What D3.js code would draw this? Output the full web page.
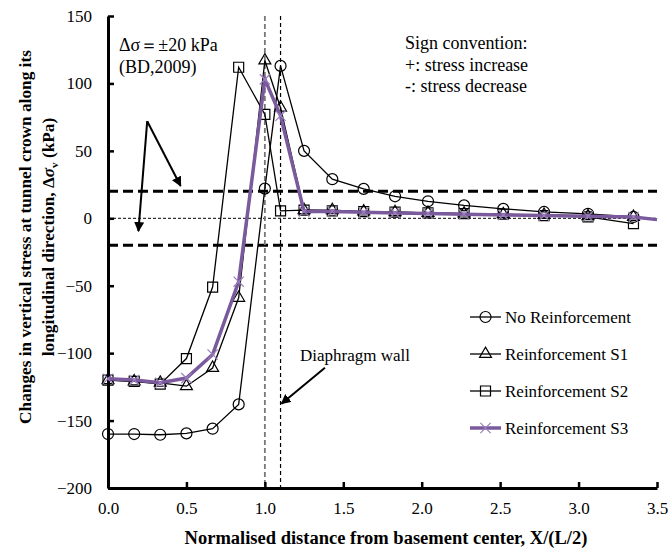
<!DOCTYPE html>
<html>
<head>
<meta charset="utf-8">
<script src="https://cdn.jsdelivr.net/npm/d3@7"></script>
<style>
  body { margin: 0; background: #fff; }
  svg text { font-family: "Liberation Serif", Tinos, "Times New Roman", Times, "DejaVu Serif", serif !important; fill: #000; }
</style>
</head>
<body>
<script>
// chart values
const xPos = [0, 0.167, 0.333, 0.5, 0.667, 0.833, 1.0, 1.1, 1.25, 1.43, 1.63, 1.83, 2.04, 2.27, 2.52, 2.78, 3.06, 3.35];
const xPosS3 = xPos.concat([3.5]);
const noReinf = [-160, -160, -160.5, -159.5, -156, -138, 22, 113, 50, 29, 21.8, 16.3, 12.6, 9.6, 7, 4.7, 3.3, 1];
const reinfS1 = [-120, -121, -122, -124.5, -111, -59, 117, 82, 6, 6, 5, 4.5, 4, 3.5, 3, 2.5, 1.5, 1];
const reinfS2 = [-120, -121, -123, -104, -51, 112, 77, 5.5, 6, 5.5, 5, 4.5, 4, 3.5, 3, 2, 1, -4];
const reinfS3 = [-119, -120, -122, -118.5, -101, -47, 103, 76, 5, 5, 4.5, 4, 3.5, 3, 2.5, 2, 1.5, 1, -1];
const seriesNames = ["No Reinforcement", "Reinforcement S1", "Reinforcement S2", "Reinforcement S3"];
const xTicks = [0, 0.5, 1.0, 1.5, 2.0, 2.5, 3.0, 3.5];
const yTicks = [-200, -150, -100, -50, 0, 50, 100, 150];
const limitLines = [20, -20];     // BD 2009 allowable ±20 kPa
const wallLines = [1.0, 1.1];     // diaphragm wall position

const MARGIN = {top: 16, right: 13, bottom: 62, left: 108},
    WIDTH = 670 - MARGIN.left - MARGIN.right,
    HEIGHT = 550 - MARGIN.top - MARGIN.bottom;

const svg = d3.select("body").append("svg")
    .attr("width", 670).attr("height", 550);
const g = svg.append("g")
    .attr("transform", `translate(${MARGIN.left},${MARGIN.top})`);

const x = d3.scaleLinear().domain([0, 3.5]).range([0, WIDTH]);
const y = d3.scaleLinear().domain([-200, 150]).range([HEIGHT, 0]);

const purple = "#7a5a9c";

// reference lines
g.selectAll(".limit").data(limitLines).join("line")
    .attr("x1", x(0)).attr("x2", x(3.5))
    .attr("y1", d => y(d)).attr("y2", d => y(d))
    .attr("stroke", "#000").attr("stroke-width", 3).attr("stroke-dasharray", "10,5");
g.append("line")
    .attr("x1", x(0)).attr("x2", x(3.5)).attr("y1", y(0)).attr("y2", y(0))
    .attr("stroke", "#333").attr("stroke-width", 1.2).attr("stroke-dasharray", "3,2");
g.selectAll(".wall").data(wallLines).join("line")
    .attr("x1", d => x(d)).attr("x2", d => x(d))
    .attr("y1", y(150)).attr("y2", y(-200))
    .attr("stroke", (d, i) => i === 0 ? "#777" : "#000")
    .attr("stroke-width", (d, i) => i === 0 ? 1.8 : 1.2)
    .attr("stroke-dasharray", (d, i) => i === 0 ? "5,3" : "4,3");

// axes
const xAxis = g.append("g").attr("transform", `translate(0,${HEIGHT})`)
    .call(d3.axisBottom(x).tickValues(xTicks).tickFormat(d3.format(".1f")).tickSizeInner(-6).tickSizeOuter(0).tickPadding(14));
const yAxis = g.append("g")
    .call(d3.axisLeft(y).tickValues(yTicks).tickSizeInner(-6).tickSizeOuter(0).tickPadding(16));
[xAxis, yAxis].forEach(a => {
  a.attr("font-family", null);
  a.select(".domain").attr("stroke-width", 3);
  a.selectAll(".tick line").attr("stroke-width", 2.5);
  a.selectAll(".tick text").style("font-size", "17px");
});

// series
const line = d3.line().x(d => x(d[0])).y(d => y(d[1]));
const series = [
  {name: seriesNames[0], xs: xPos, ys: noReinf, sym: d3.symbolCircle, size: 95, color: "#000", w: 1.3, mc: "#000"},
  {name: seriesNames[1], xs: xPos, ys: reinfS1, sym: d3.symbolTriangle, size: 62, color: "#000", w: 1.3, mc: "#000"},
  {name: seriesNames[2], xs: xPos, ys: reinfS2, sym: d3.symbolSquare, size: 100, color: "#000", w: 1.3, mc: "#000"},
  {name: seriesNames[3], xs: xPosS3, ys: reinfS3, sym: d3.symbolTimes, size: 70, color: purple, w: 3.5, mc: "#9b7fbd"}
];

series.forEach(s => {
  const pts = s.xs.map((v, i) => [v, s.ys[i]]);
  g.append("path").datum(pts)
      .attr("fill", "none").attr("stroke", s.color).attr("stroke-width", s.w)
      .attr("d", line);
  const markPts = s.name === seriesNames[3] ? pts.slice(0, pts.length - 1) : pts;
  g.selectAll(null).data(markPts).join("path")
      .attr("transform", d => `translate(${x(d[0])},${y(d[1])})`)
      .attr("d", d3.symbol(s.sym, s.size))
      .attr("fill", "none").attr("stroke", s.mc).attr("stroke-width", 1.2);
});

// legend
const legend = svg.append("g").attr("transform", "translate(470,317)");
series.forEach((s, i) => {
  const row = legend.append("g").attr("transform", `translate(0,${i * 37})`);
  row.append("line").attr("x1", 0).attr("x2", 31)
      .attr("stroke", s.color).attr("stroke-width", s.w === 3.5 ? 3.5 : 1.3);
  row.append("path").attr("transform", "translate(15.5,0)")
      .attr("d", d3.symbol(s.sym, s.size))
      .attr("fill", "none").attr("stroke", s.mc).attr("stroke-width", 1.2);
  row.append("text").attr("x", 35).attr("y", 0).attr("dy", "0.33em")
      .style("font-size", "17px").text(s.name);
});

// annotations
svg.append("defs").append("marker")
    .attr("id", "arrow").attr("viewBox", "0 0 10 10").attr("refX", 9).attr("refY", 5)
    .attr("markerWidth", 5).attr("markerHeight", 5).attr("orient", "auto-start-reverse")
  .append("path").attr("d", "M0,0L10,5L0,10z").attr("fill", "#000");

const arrowFrom = [0.25, 72];
const arrowTips = [[0.463, 24], [0.194, -9.5]];
arrowTips.forEach(t => {
  g.append("line")
      .attr("x1", x(arrowFrom[0])).attr("y1", y(arrowFrom[1]))
      .attr("x2", x(t[0])).attr("y2", y(t[1]))
      .attr("stroke", "#000").attr("stroke-width", 2).attr("marker-end", "url(#arrow)");
});
const wallArrow = [[1.383, -110.8], [1.106, -137.5]];
g.append("line")
    .attr("x1", x(wallArrow[0][0])).attr("y1", y(wallArrow[0][1]))
    .attr("x2", x(wallArrow[1][0])).attr("y2", y(wallArrow[1][1]))
    .attr("stroke", "#000").attr("stroke-width", 2).attr("marker-end", "url(#arrow)");

svg.append("text").attr("x", 119).attr("y", 51).style("font-size", "18px").text("Δσ＝±20 kPa");
svg.append("text").attr("x", 119).attr("y", 73).style("font-size", "18px").text("(BD,2009)");

const sign = svg.append("text").style("font-size", "18px");
["Sign convention:", "+: stress increase", "-: stress decrease"].forEach((t, i) => {
  sign.append("tspan").attr("x", 405).attr("y", 49 + i * 21.5).text(t);
});

svg.append("text").attr("x", 300).attr("y", 361).style("font-size", "17px").text("Diaphragm wall");

// axis titles
svg.append("text").attr("x", 386).attr("y", 544).attr("text-anchor", "middle")
    .style("font-size", "18.5px").style("font-weight", "bold")
    .text("Normalised distance from basement center, X/(L/2)");

const yt = svg.append("text").attr("transform", "translate(0,237) rotate(-90)")
    .attr("text-anchor", "middle").style("font-size", "17.3px").style("font-weight", "bold");
yt.append("tspan").attr("x", 0).attr("y", 31).text("Changes in vertical stress at tunnel crown along  its");
yt.append("tspan").attr("x", 0).attr("y", 54).text("longitudinal direction,  Δ");
yt.append("tspan").style("font-style", "italic").text("σ");
yt.append("tspan").attr("dy", 4).style("font-size", "11px").text("v");
yt.append("tspan").attr("dy", -4).text(" (kPa)");
</script>
</body>
</html>
